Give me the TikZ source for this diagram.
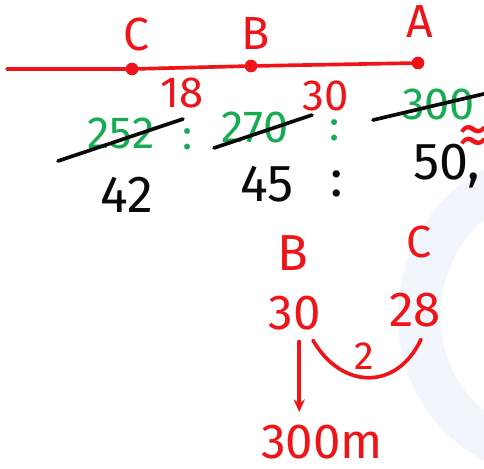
\documentclass[tikz,border=0pt]{standalone}
\usepackage{fontspec}
\setmainfont{Fira Sans}
\usetikzlibrary{arrows.meta, positioning}

\definecolor{penred}{RGB}{238,20,24}
\definecolor{pengreen}{RGB}{22,172,82}
\definecolor{penblack}{RGB}{10,10,10}
\definecolor{markblue}{RGB}{240,246,252}

\begin{document}
\begin{tikzpicture}[
    x=0.025cm, y=-0.025cm, % one unit is one pixel of the sketch, y downwards
    >={Stealth[length=9pt, width=8pt]}, % Set default arrow tip style
    pen/.style={line width=2.6pt, line cap=round}, % Style for strokes
    reddot/.style={circle, fill=penred, inner sep=0pt, minimum size=9pt}, % Points on the line
    hand/.style={inner sep=0pt, font=\fontsize{#1}{#1}\selectfont}, % Written text
    redtext/.style={hand=#1, text=penred},
    greentext/.style={hand=#1, text=pengreen},
    blacktext/.style={hand=#1, text=penblack}
]

    % Frame of the sketch
    \clip (0,0) rectangle (484,468);
    \fill[white] (0,0) rectangle (484,468);

    % Faint mark in the background
    \draw[markblue, line width=30pt] (500,185) .. controls (400,230) and (385,390) .. (500,445);

    % Line with the three points
    \coordinate (lineL) at (7,69);
    \node[reddot] (dotC) at (132,69) {};
    \node[reddot] (dotB) at (251,66) {};
    \node[reddot] (dotA) at (418,63) {};
    \draw[pen, penred] (lineL) -- (dotC) -- (dotB) -- (dotA);

    % Labels for the points
    \node[redtext=33, above=8pt of dotC, xshift=3pt] (lblC) {C};
    \node[redtext=33, above=7pt of dotB, xshift=3pt] (lblB) {B};
    \node[redtext=33, above=13pt of dotA, xshift=1pt] (lblA) {A};

    % First ratio, crossed out
    \node[greentext=32] (g252) at (121,133) {252};
    \node[greentext=32] (g270) at (255,127) {270};
    \node[greentext=32, anchor=west] (g300) at (402,104) {300};
    \node[greentext=30] (col1) at (188,139) {:};
    \node[greentext=30] (col2) at (335,130) {:};
    \draw[pen, penblack] ([shift={(-63,28)}]g252.center) -- ([shift={(62,-14)}]g252.center);
    \draw[pen, penblack] ([shift={(-41,21)}]g270.center) -- ([shift={(57,-12)}]g270.center);
    \draw[pen, penblack] ([shift={(-29,16)}]g300.west) -- ([shift={(90,-12)}]g300.west);

    % Divided by
    \node[redtext=31] (r18) at (182,93) {18};
    \node[redtext=31] (r30) at (326,96) {30};
    \node[redtext=44] (approx) at (474,141) {≈};

    % Simplified ratio
    \node[blacktext=37] (b42) at (127,195) {42};
    \node[blacktext=37] (b45) at (267,184) {45};
    \node[blacktext=37] (col3) at (337,184) {:};
    \node[blacktext=37, anchor=west] (b50) at (413,166) {50,};

    % Comparison of B and C
    \node[redtext=36] (lowB) at (293,253) {B};
    \node[redtext=32] (lowC) at (419,242) {C};
    \node[redtext=35] (n30) at (295,313) {30};
    \node[redtext=35] (n28) at (415,310) {28};
    \node[redtext=35] (dist) at (322,442) {300m};
    \node[redtext=28] (diff) at (364,356) {2};

    % Arrow down to the distance
    \draw[pen, penred, ->, shorten <=8pt, shorten >=9pt] ([xshift=3pt]n30.south) -- ([xshift=3pt]n30.south |- dist.north);

    % Arc between the two values
    \draw[pen, penred] ([shift={(18,10)}]n30.south) to[out=-60, in=-115, looseness=1.35] ([shift={(6,12)}]n28.south);

\end{tikzpicture}
\end{document}
